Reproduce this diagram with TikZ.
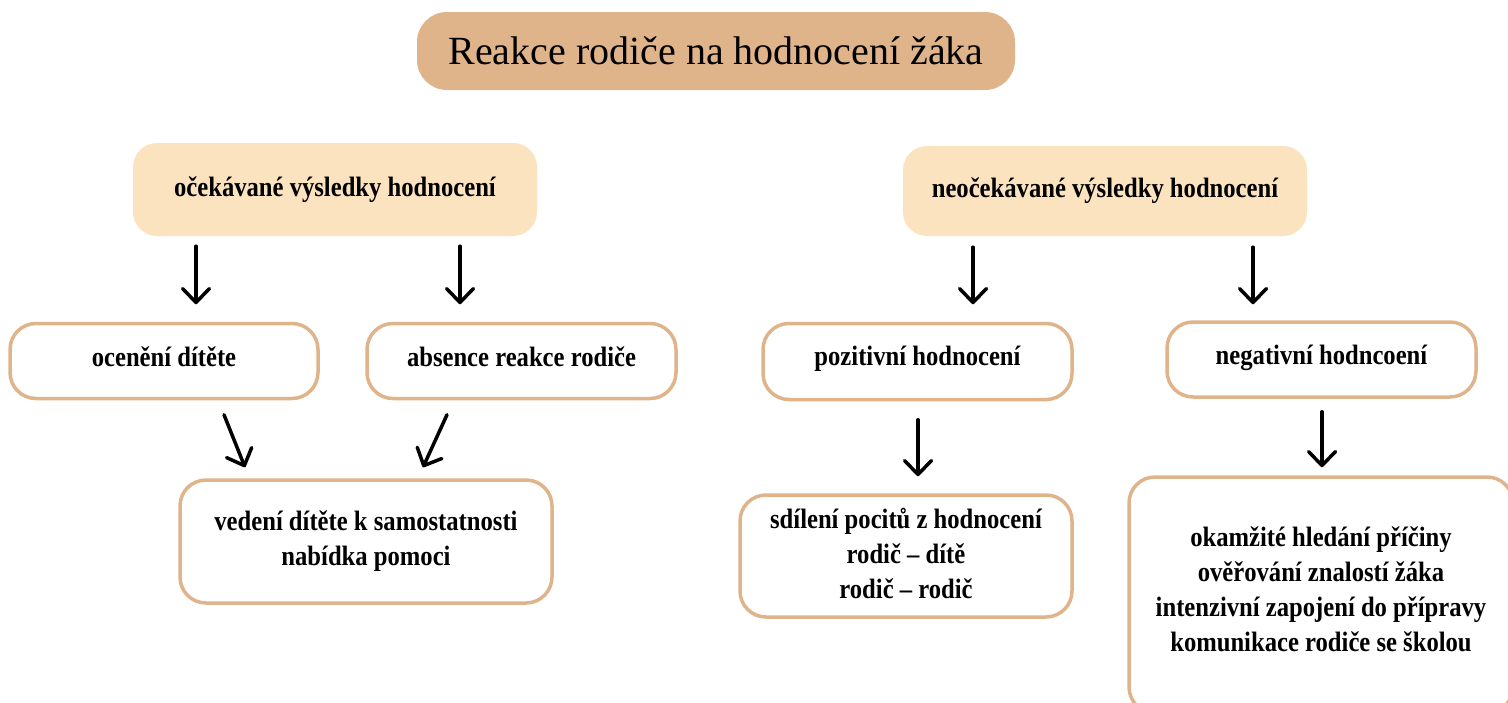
\documentclass[tikz,border=0pt]{standalone}
\usepackage{fontspec}
\setmainfont{Liberation Serif}
\newfontfamily\boldcond[FakeStretch=0.88]{Liberation Serif}
\usetikzlibrary{arrows.meta,calc}
\definecolor{tan}{RGB}{224,180,139}
\definecolor{lightpeach}{RGB}{250,227,190}
\tikzset{
  titlebox/.style={rectangle, rounded corners=30pt, fill=tan, draw=none,
    minimum width=598pt, minimum height=78pt, inner sep=0pt,
    font=\fontsize{40}{44}\selectfont},
  headbox/.style={rectangle, rounded corners=24pt, fill=lightpeach, draw=none,
    minimum width=404pt, inner sep=0pt,
    font=\boldcond\bfseries\fontsize{28}{35}\selectfont},
  itembox/.style={rectangle, rounded corners=26pt, fill=white, draw=tan,
    line width=3.5pt, inner sep=0pt, align=center,
    font=\boldcond\bfseries\fontsize{28}{35}\selectfont},
  arr/.style={line width=3.5pt, line cap=round, -{Straight Barb[length=14pt,width=27pt,round]}}
}
\begin{document}
\begin{tikzpicture}[x=1pt,y=-1pt]
\useasboundingbox (0,0) rectangle (1508,702);
\fill[white] (0,0) rectangle (1508,702);

\node[titlebox] (title) at (716,51) {Reakce rodiče na hodnocení žáka};

\node[headbox, minimum height=93pt] (exp) at (335,189.5) {očekávané výsledky hodnocení};
\node[headbox, minimum height=90pt] (unexp) at (1105,191) {neočekávané výsledky hodnocení};

\node[itembox, minimum width=308pt, minimum height=75pt, text depth=8pt] (ocen) at (164,361) {ocenění dítěte};
\node[itembox, minimum width=309pt, minimum height=75pt, text depth=8pt] (abs) at (521.5,361) {absence reakce rodiče};
\node[itembox, minimum width=372pt, minimum height=123pt] (vede) at (366,541.5) {vedení dítěte k samostatnosti\\nabídka pomoci};

\node[itembox, minimum width=309pt, minimum height=76pt, text depth=12pt] (poz) at (917.5,361.5) {pozitivní hodnocení};
\node[itembox, minimum width=309pt, minimum height=75pt, text depth=10pt] (neg) at (1321.5,359.5) {negativní hodncoení};
\node[itembox, minimum width=332pt, minimum height=122pt, text depth=6pt] (sdil) at (906,556) {sdílení pocitů z hodnocení\\rodič – dítě\\rodič – rodič};
\node[itembox, minimum width=384pt, minimum height=236pt, text depth=12pt] (okam) at (1321,595) {okamžité hledání příčiny\\ověřování znalostí žáka\\intenzivní zapojení do přípravy\\komunikace rodiče se školou};

\draw[arr] ($(exp.south)+(-139,10)$) -- ($(ocen.north)+(32,-17.5)$);
\draw[arr] ($(exp.south)+(125,10)$) -- ($(abs.north)+(-61.5,-17.5)$);
\draw[arr] ($(unexp.south)+(-132,11)$) -- ($(poz.north)+(55.5,-17.5)$);
\draw[arr] ($(unexp.south)+(148,11)$) -- ($(neg.north)+(-68.5,-16)$);
\draw[arr] ($(ocen.south)+(60,14.5)$) -- ($(vede.north)+(-121,-11)$);
\draw[arr] ($(abs.south)+(-74.5,14.5)$) -- ($(vede.north)+(57,-11)$);
\draw[arr] ($(poz.south)+(0.5,18.5)$) -- ($(sdil.north)+(12,-17)$);
\draw[arr] ($(neg.south)+(0.5,13)$) -- ($(okam.north)+(1,-8)$);
\end{tikzpicture}
\end{document}
